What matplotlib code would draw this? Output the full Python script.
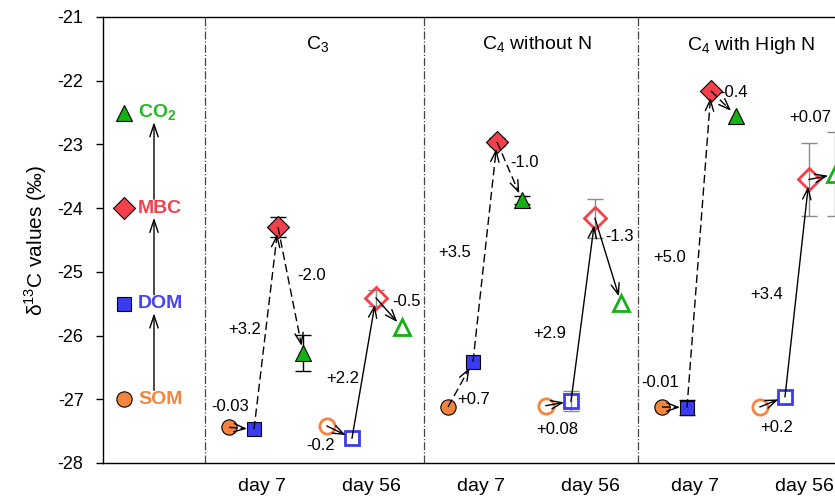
import matplotlib
matplotlib.use("Agg")
import matplotlib.pyplot as plt
import numpy as np

plt.rcParams["font.family"] = ["Liberation Sans", "DejaVu Sans"]
plt.rcParams["mathtext.fontset"] = "custom"
plt.rcParams["mathtext.rm"] = "Liberation Sans"
plt.rcParams["mathtext.bf"] = "Liberation Sans:bold"
plt.rcParams["axes.unicode_minus"] = False

# pools, in order of the carbon flow
pools = ["SOM", "DOM", "MBC", "CO2"]
pool_labels = ["SOM", "DOM", "MBC", r"CO$_\mathbf{2}$"]
panels = [r"C$_3$", r"C$_4$ without N", r"C$_4$ with High N"]
days = ["day 7", "day 56"]

# delta13C values (permil) per panel: [day 7, day 56], each SOM, DOM, MBC, CO2
c3_values = [[-27.44, -27.47, -24.30, -26.27], [-27.42, -27.61, -25.41, -25.87]]
c4_noN_values = [[-27.12, -26.41, -22.96, -23.87], [-27.10, -27.03, -24.16, -25.49]]
c4_highN_values = [[-27.12, -27.13, -22.16, -22.55], [-27.12, -26.96, -23.55, -23.47]]

c3_err = [[0, 0, 0.16, 0.28], [0, 0, 0.12, 0]]
c4_noN_err = [[0, 0, 0.06, 0.06], [0, 0.16, 0.31, 0]]
c4_highN_err = [[0, 0.12, 0, 0], [0, 0, 0.58, 0.66]]

# fractionation labels for each step (SOM->DOM, DOM->MBC, MBC->CO2)
c3_steps = [["-0.03", "+3.2", "-2.0"], ["-0.2", "+2.2", "-0.5"]]
c4_noN_steps = [["+0.7", "+3.5", "-1.0"], ["+0.08", "+2.9", "-1.3"]]
c4_highN_steps = [["-0.01", "+5.0", "-0.4"], ["+0.2", "+3.4", "+0.07"]]

all_values = [c3_values, c4_noN_values, c4_highN_values]
all_err = [c3_err, c4_noN_err, c4_highN_err]
all_steps = [c3_steps, c4_noN_steps, c4_highN_steps]

pool_colors = ["#F4843E", "#3B3BEF", "#F2414B", "#14B014"]
text_colors = ["#F4843E", "#4444F4", "#F2414B", "#22BB22"]
markers = ["o", "s", "D", "^"]
marker_sizes = [11, 10, 11, 12]

# layout (x in pixel-like units of the axes)
legend_y = [-27.0, -25.5, -24.0, -22.5]
panel_left = [205, 424, 638]
x_off = [[24, 49, 73, 98], [122, 147, 171, 197]]
day_label_off = [57, 166]
title_off = 113
# label positions per panel/day: (x offset, y)
label_pos = [
    [[(25, -27.12), (40, -25.91), (107, -25.05)], [(116, -27.73), (138, -26.67), (202, -25.47)]],
    [[(50, -27.01), (31, -24.70), (101, -23.29)], [(133, -27.48), (126, -25.96), (196, -24.45)]],
    [[(22, -26.74), (32, -24.77), (96, -22.19)], [(139, -27.45), (129, -25.35), (172, -22.57)]],
]

fig = plt.figure(figsize=(8.35, 5.03), dpi=100)
ax = fig.add_axes([103 / 835, 1 - 463 / 503, 750 / 835, 446 / 503])
ax.set_xlim(103, 853)
ax.set_ylim(-28, -21)


def draw_arrow(x0, y0, x1, y1, ls, shrink=7):
    p0 = ax.transData.transform((x0, y0))
    p1 = ax.transData.transform((x1, y1))
    d = (p1 - p0) / np.hypot(*(p1 - p0))
    end = p1 - d * shrink
    hs = end - d * 6
    inv = ax.transData.inverted()
    e = inv.transform(end)
    h = inv.transform(hs)
    ax.plot([x0, h[0]], [y0, h[1]], color="black", lw=1, ls=ls, dashes=(6, 3) if ls == "--" else (None, None), zorder=5)
    ax.annotate("", xy=(e[0], e[1]), xytext=(h[0], h[1]),
                arrowprops=dict(arrowstyle="->,head_length=0.8,head_width=0.3", color="black", lw=1,
                                shrinkA=0, shrinkB=0), zorder=5)


# legend panel
for i, pool in enumerate(pools):
    ax.plot(124, legend_y[i], marker=markers[i], ms=marker_sizes[i], color=pool_colors[i],
            mec="black", mew=0.8, zorder=4)
    ax.text(138, legend_y[i], pool_labels[i], color=text_colors[i], fontsize=14, fontweight="bold",
            va="center", ha="left")
for i in range(3):
    ax.annotate("", xy=(154, legend_y[i + 1] - 0.15), xytext=(154, legend_y[i] + 0.14),
                arrowprops=dict(arrowstyle="->,head_length=0.9,head_width=0.3", color="black", lw=1,
                                shrinkA=0, shrinkB=0))

for left in panel_left:
    ax.axvline(left, color="#444444", lw=0.9, ls="-.")

xticks, xticklabels = [], []
for p in range(3):
    left = panel_left[p]
    ax.text(left + title_off, -21.44, panels[p], fontsize=14, ha="center", va="center")
    for d in range(2):
        xs = [left + o for o in x_off[d]]
        ys = all_values[p][d]
        errs = all_err[p][d]
        ls = "--" if d == 0 else "-"
        for i in range(4):
            if errs[i] > 0:
                ax.errorbar(xs[i], ys[i], yerr=errs[i], fmt="none", ecolor="black" if d == 0 else "#8A8A8A",
                            elinewidth=1, capsize=6, capthick=1, zorder=2)
            if d == 0:
                ax.plot(xs[i], ys[i], marker=markers[i], ms=marker_sizes[i], color=pool_colors[i],
                        mec="black", mew=0.8, ls="none", zorder=3)
            else:
                ax.plot(xs[i], ys[i], marker=markers[i], ms=marker_sizes[i], mfc="none",
                        mec=pool_colors[i], mew=2, ls="none", zorder=3)
        for i in range(3):
            draw_arrow(xs[i], ys[i], xs[i + 1], ys[i + 1], ls)
            lx, ly = label_pos[p][d][i]
            ax.text(left + lx, ly, all_steps[p][d][i], fontsize=12, ha="center", va="center")
        xticks.append(left + day_label_off[d])
        xticklabels.append(days[d])

ax.set_xticks(xticks)
ax.set_xticklabels(xticklabels, fontsize=14)
ax.tick_params(axis="x", length=0, pad=11)
ax.set_yticks(np.arange(-28, -20.5, 1))
ax.tick_params(axis="y", direction="out", length=5, width=1, labelsize=13, pad=9)
for s in ax.spines.values():
    s.set_linewidth(1)
ax.set_ylabel(r"δ$^{\mathrm{13}}$C values (‰)", fontsize=15, labelpad=6)

fig.savefig("out.png", dpi=100)
